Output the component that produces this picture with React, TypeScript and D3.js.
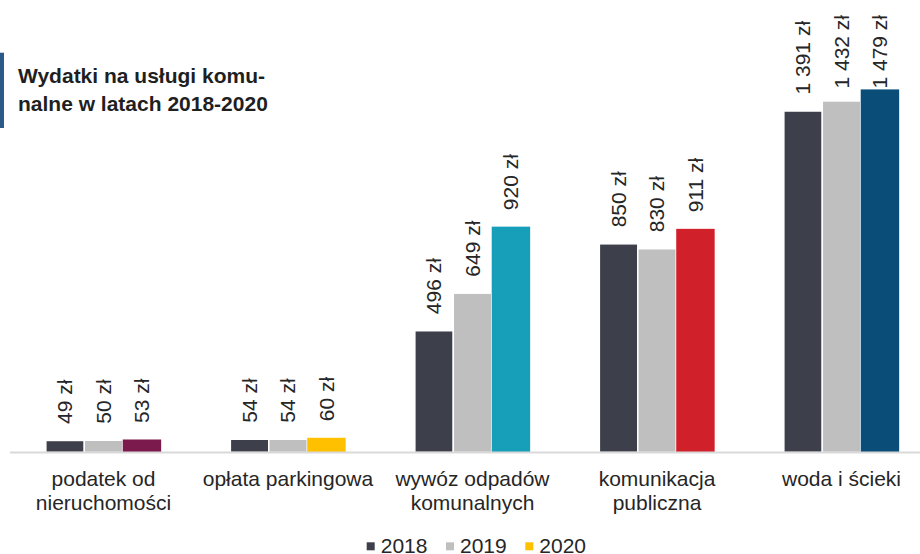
import React from "react";
import * as d3 from "d3";

const categories: string[][] = [
  ["podatek od", "nieruchomości"],
  ["opłata parkingowa"],
  ["wywóz odpadów", "komunalnych"],
  ["komunikacja", "publiczna"],
  ["woda i ścieki"],
];
const years = ["2018", "2019", "2020"];
const values2018 = [49, 54, 496, 850, 1391];
const values2019 = [50, 54, 649, 830, 1432];
const values2020 = [53, 60, 920, 911, 1479];
const valueLabels2018 = ["49 zł", "54 zł", "496 zł", "850 zł", "1 391 zł"];
const valueLabels2019 = ["50 zł", "54 zł", "649 zł", "830 zł", "1 432 zł"];
const valueLabels2020 = ["53 zł", "60 zł", "920 zł", "911 zł", "1 479 zł"];
const color2018 = "#3d3f4b";
const color2019 = "#bfbfbf";
const colors2020 = ["#7b1a4c", "#ffc000", "#179fba", "#d0202a", "#094d78"];
const legendColors = [color2018, color2019, "#ffc000"];
const titleLines = ["Wydatki na usługi komu-", "nalne w latach 2018-2020"];

const W = 920;
const H = 554;
const FONT = "'Liberation Sans', Arial, sans-serif";
const FS = 21;

let ctx: CanvasRenderingContext2D | null = null;
function textWidth(s: string): number {
  if (!ctx) {
    const c = document.createElement("canvas");
    ctx = c.getContext("2d");
  }
  if (!ctx) return s.length * FS * 0.55;
  ctx.font = `${FS}px ${FONT}`;
  return ctx.measureText(s).width;
}

export default function App() {
  const x0 = d3
    .scaleBand<number>()
    .domain(d3.range(categories.length))
    .range([11.25, 933.75])
    .paddingInner(0.375)
    .paddingOuter(0.1875);
  const x1 = d3.scaleBand<string>().domain(years).range([0, x0.bandwidth()]).padding(0);
  const y = d3.scaleLinear().domain([0, 1600]).range([452.5, 59.7]);

  const series = [
    { year: "2018", vals: values2018, labels: valueLabels2018, color: (_i: number) => color2018, stroke: true },
    { year: "2019", vals: values2019, labels: valueLabels2019, color: (_i: number) => color2019, stroke: true },
    { year: "2020", vals: values2020, labels: valueLabels2020, color: (i: number) => colors2020[i], stroke: false },
  ];

  const legendStep = 79.3;

  return (
    <svg
      width={W}
      height={H}
      style={{ position: "absolute", left: 0, top: 0, background: "#fff" }}
      fontFamily={FONT}
    >
      <rect x={0} y={0} width={W} height={H} fill="#ffffff" />
      {/* title */}
      <rect x={0} y={52.7} width={4} height={75.3} fill="#2b5a8a" />
      {titleLines.map((t, i) => (
        <text key={i} x={18} y={83.3 + i * 28} fontSize={FS} fontWeight="bold" fill="#1f1f1f">
          {t}
        </text>
      ))}

      {/* bars */}
      {series.map((s) =>
        s.vals.map((v, i) => {
          const bx = (x0(i) as number) + (x1(s.year) as number);
          const bw = x1.bandwidth();
          const top = y(v);
          return (
            <rect
              key={s.year + i}
              x={bx}
              y={top}
              width={bw}
              height={y(0) - top}
              fill={s.color(i)}
              stroke={s.stroke ? "#ffffff" : "none"}
              strokeWidth={s.stroke ? 1.5 : 0}
            />
          );
        })
      )}

      {/* axis line */}
      <line x1={10} x2={W} y1={y(0)} y2={y(0)} stroke="#d9d9d9" strokeWidth={2} />

      {/* value labels */}
      {series.map((s) =>
        s.vals.map((v, i) => {
          const cx = (x0(i) as number) + (x1(s.year) as number) + x1.bandwidth() / 2;
          const len = textWidth(s.labels[i]);
          const ay = Math.max(y(v) - 16.5, 15 + len);
          return (
            <text
              key={"l" + s.year + i}
              transform={`translate(${cx},${ay}) rotate(-90)`}
              dy="0.35em"
              fontSize={FS}
              fill="#262626"
            >
              {s.labels[i]}
            </text>
          );
        })
      )}

      {/* category labels */}
      {categories.map((lines, i) => (
        <text
          key={"c" + i}
          x={(x0(i) as number) + x0.bandwidth() / 2}
          y={485.5}
          textAnchor="middle"
          fontSize={FS}
          fill="#262626"
        >
          {lines.map((ln, j) => (
            <tspan key={j} x={(x0(i) as number) + x0.bandwidth() / 2} dy={j === 0 ? 0 : 24.5}>
              {ln}
            </tspan>
          ))}
        </text>
      ))}

      {/* legend */}
      {years.map((yr, i) => (
        <g key={"lg" + yr} transform={`translate(${366.7 + i * legendStep},0)`}>
          <rect x={0} y={542.3} width={8} height={8} fill={legendColors[i]} />
          <text x={14} y={552.7} fontSize={FS} fill="#262626">
            {yr}
          </text>
        </g>
      ))}
    </svg>
  );
}
